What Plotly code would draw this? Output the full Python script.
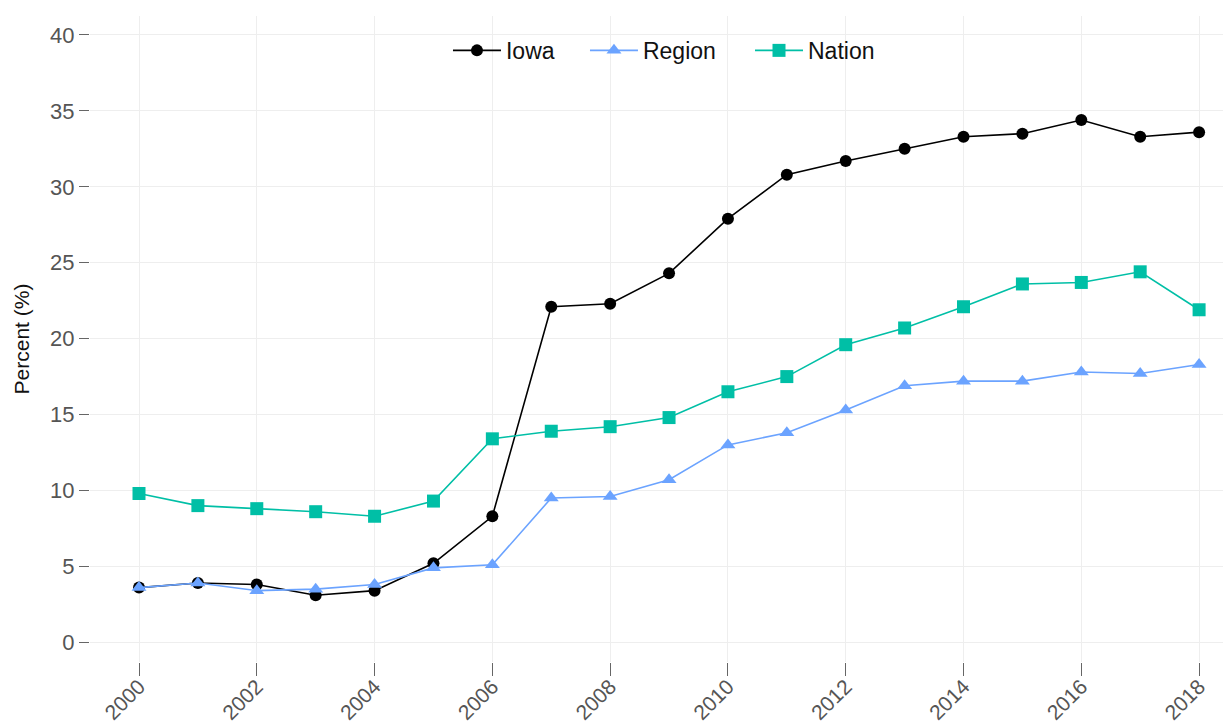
import plotly.graph_objects as go

years = list(range(2000, 2019))

iowa = [3.6, 3.9, 3.8, 3.1, 3.4, 5.2, 8.3, 22.1, 22.3, 24.3, 27.9,
        30.8, 31.7, 32.5, 33.3, 33.5, 34.4, 33.3, 33.6]
region = [3.6, 3.9, 3.4, 3.5, 3.8, 4.9, 5.1, 9.5, 9.6, 10.7, 13.0,
          13.8, 15.3, 16.9, 17.2, 17.2, 17.8, 17.7, 18.3]
nation = [9.8, 9.0, 8.8, 8.6, 8.3, 9.3, 13.4, 13.9, 14.2, 14.8, 16.5,
          17.5, 19.6, 20.7, 22.1, 23.6, 23.7, 24.4, 21.9]

# name, values, colour, marker, marker size, legend id, legend x
series = [
    ("Iowa", iowa, "#000000", "circle", 12, "legend", 0.3154),
    ("Region", region, "#6BA3FF", "triangle-up", 13, "legend2", 0.4361),
    ("Nation", nation, "#00BFA6", "square", 13, "legend3", 0.5815),
]

fig = go.Figure()
legends = {}
for name, vals, color, symbol, size, leg, lx in series:
    fig.add_trace(go.Scatter(
        x=years, y=vals, name=name, mode="lines+markers",
        line=dict(color=color, width=1.6),
        marker=dict(color=color, symbol=symbol, size=size),
        legend=leg, showlegend=True,
    ))
    legends[leg] = dict(orientation="h", x=lx, xanchor="left", y=0.98, yanchor="top",
                        itemwidth=48, font=dict(size=23, color="#111111"),
                        bgcolor="rgba(0,0,0,0)")

# page body has an 8px margin, so the figure is a bit smaller than the window
fig.update_layout(
    width=1223, height=716, showlegend=True,
    plot_bgcolor="white", paper_bgcolor="white",
    font=dict(family="Liberation Sans, Arial", size=21, color="#555555"),
    margin=dict(l=82, r=6, t=8, b=62),
    **legends,
)
fig.update_xaxes(
    range=[1999.168, 2018.44], tickmode="linear", tick0=2000, dtick=2,
    tickangle=-45, ticks="outside", ticklen=13, tickcolor="#666666",
    ticklabelstandoff=-10,
    showgrid=True, gridcolor="#EEEEEE", gridwidth=1, zeroline=False,
    showline=False, automargin=False, tickfont=dict(size=21, color="#555555"),
)
fig.update_yaxes(
    range=[-1.3, 41.25], tickmode="linear", tick0=0, dtick=5,
    ticks="outside", ticklen=10, tickcolor="#666666",
    showgrid=True, gridcolor="#EEEEEE", gridwidth=1, zeroline=False,
    showline=False, automargin=False, tickfont=dict(size=22, color="#555555"),
    title=dict(text="Percent (%)", font=dict(size=21, color="#111111"), standoff=14),
)

fig.write_html("out.html")
